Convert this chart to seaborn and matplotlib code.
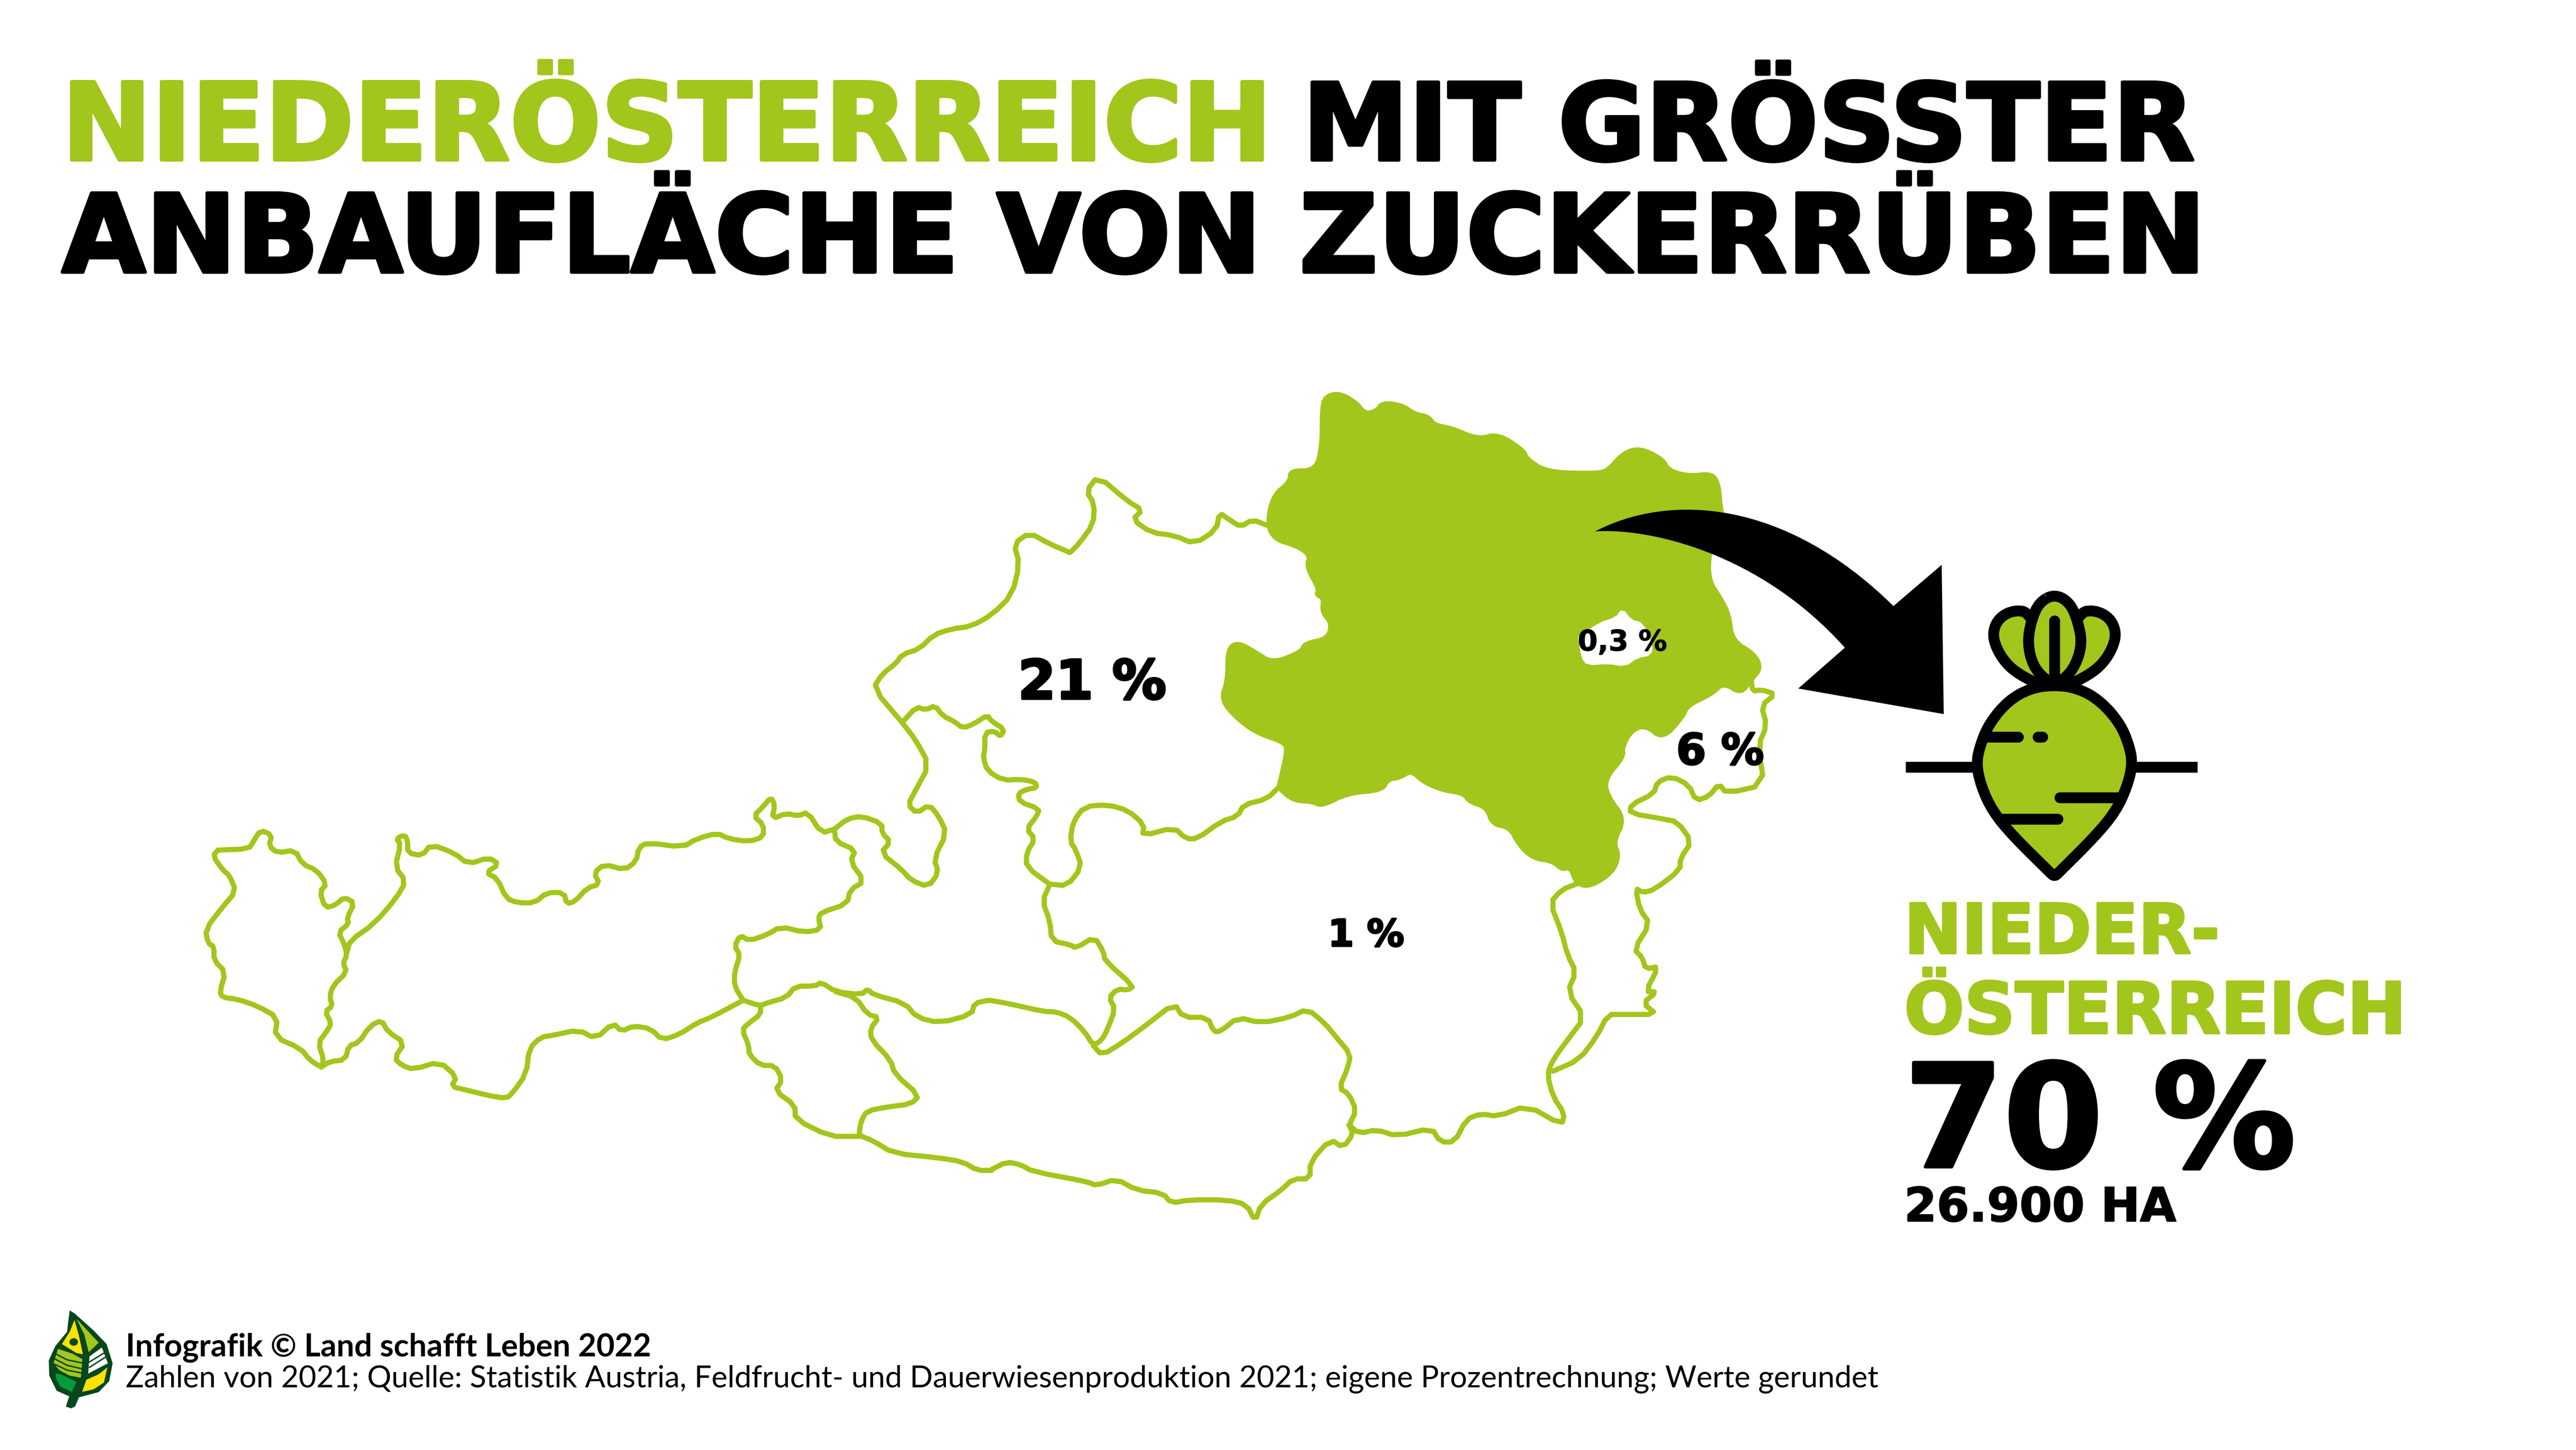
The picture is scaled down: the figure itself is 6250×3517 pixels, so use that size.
"""
plot.py
Zuckerrueben-Infografik: Anbauflaeche nach Bundesland (Land schafft Leben 2022)
Output: out.png (6250x3517)
"""

import numpy as np
import matplotlib
matplotlib.use("Agg")
import matplotlib.pyplot as plt
import matplotlib.patheffects as pe
from matplotlib.path import Path
from matplotlib.patches import PathPatch, Polygon, Ellipse
import seaborn as sns

GREEN = "#a2c61b"
BLACK = "#000000"
LEAF_DARK = "#07471c"
LEAF_YELLOW = "#ffe100"
LEAF_MID = "#009e3a"

# ─── Text / values ───────────────────────────────────────────────────────────

TITLE_GREEN = "NIEDERÖSTERREICH"
TITLE_REST = "MIT GRÖSSTER"
TITLE_LINE2 = "ANBAUFLÄCHE VON ZUCKERRÜBEN"
SHARE_LABELS = ["21 %", "1 %", "6 %", "0,3 %"]
MAIN_REGION = ["NIEDER-", "ÖSTERREICH"]
MAIN_SHARE = "70 %"
MAIN_AREA = "26.900 HA"
FOOT_BOLD = "Infografik © Land schafft Leben 2022"
FOOT_TEXT = ("Zahlen von 2021; Quelle: Statistik Austria, Feldfrucht- und "
             "Dauerwiesenproduktion 2021; eigene Prozentrechnung; Werte gerundet")

# ─── Map outlines (west part and east part, in map units) ────────────────────

vorarlberg = [(92,845),(145,843),(153,830),(165,810),(185,818),(180,838),(195,850),(225,845),(238,870),(262,880),(280,905),(268,918),(277,947),(295,942),(310,928),(328,938),(315,965),(318,975),(300,990),(310,1010),(315,1030),(308,1045),(315,1060),(290,1085),(285,1105),(290,1120),(277,1130),(288,1150),(280,1165),(265,1185),(275,1215),(270,1228),(250,1215),(235,1195),(190,1175),(195,1140),(160,1120),(125,1108),(100,1105),(95,1095),(105,1060),(85,1040),(85,1015),(75,1010),(70,985),(100,945),(123,918),(112,890),(100,880),(83,855),(92,845)]

tirol_north = [(315,1025),(320,1005),(362,975),(400,930),(417,900),(398,875),(408,835),(400,825),(415,818),(420,830),(420,850),(445,855),(460,835),(500,850),(525,870),(560,858),(578,870),(555,885),(575,895),(590,930),(610,938),(640,938),(660,920),(690,920),(695,940),(710,935),(730,912),(752,905),(742,885),(760,870),(795,880),(815,865),(820,840),(835,832),(895,840),(920,825),(955,815),(975,825),(1010,830),(1035,822),(1035,800),(1018,785),(1035,768),(1048,752),(1055,765),(1050,790),(1075,780),(1095,785),(1112,778),(1135,815),(1158,808)]

tirol_east = [(1158,808),(1160,830),(1195,845),(1185,865),(1210,900),(1185,915),(1180,940),(1135,955),(1130,965),(1135,985),(1105,990),(1065,980),(1040,995),(1010,1005),(995,995),(985,1015),(995,1030),(985,1060),(985,1085),(1000,1110)]

tirol_south = [(1000,1110),(945,1140),(920,1150),(890,1170),(860,1180),(840,1160),(810,1155),(790,1165),(775,1150),(745,1178),(715,1162),(670,1172),(650,1175),(630,1195),(625,1240),(600,1275),(590,1283),(560,1278),(520,1268),(495,1262),(505,1245),(475,1218),(430,1232),(410,1225),(397,1212),(415,1185),(385,1165),(375,1145),(355,1155),(335,1185),(318,1190),(312,1215),(285,1218),(270,1228)]

salzburg_north = [(1158,808),(1180,790),(1205,785),(1240,798),(1240,815),(1255,830),(1238,850),(1275,880),(1290,898),(1320,910),(1338,885),(1330,860),(1352,815),(1338,785),(1322,765),(1300,780),(1285,765),(1298,740),(1322,695),(1298,650),(1275,620)]

salzburg_ooe = [(1275,620),(1300,592),(1315,598),(1332,590),(1345,608),(1365,618),(1380,630),(1400,622),(1422,607),(1430,618),(1452,632),(1445,645),(1435,635),(1418,638),(1418,670),(1415,680),(1422,705),(1450,722),(1480,720),(1505,725),(1508,735),(1490,738),(1476,745),(1478,760),(1512,772),(1508,785),(1490,808),(1505,825),(1490,850),(1490,875),(1530,905)]

salzburg_south = [(1425,1110),(1400,1115),(1395,1135),(1340,1150),(1300,1140),(1280,1115),(1225,1100),(1215,1090),(1205,1100),(1160,1095),(1135,1078),(1125,1085),(1090,1085),(1075,1105),(1040,1115),(1030,1120),(1000,1110)]

osttirol = [(1030,1120),(1030,1135),(1010,1150),(998,1162),(1010,1190),(1010,1205),(1030,1225),(1055,1225),(1068,1250),(1055,1270),(1090,1295),(1090,1320),(1150,1350),(1190,1350),(1205,1350),(1200,1345),(1205,1320),(1215,1305),(1250,1298),(1290,1293),(1305,1278),(1262,1240),(1255,1215),(1222,1180),(1220,1160),(1235,1140),(1215,1135),(1195,1105),(1160,1095)]

kaernten_west = [(1205,1350),(1225,1358),(1260,1380),(1340,1388),(1380,1395),(1405,1410),(1430,1410)]

ooe_west = [(1275,620),(1225,560),(1240,535),(1265,515),(1275,500),(1305,490),(1330,465),(1360,455),(1395,450),(1430,430),(1465,395),(1478,340),(1468,305),(1495,285),(1530,305),(1565,320)]

ooe_north = [(140,320),(155,305),(180,270),(182,235),(168,212),(188,185),(240,230),(265,245),(248,262),(280,285),(320,290),(355,305),(393,280),(398,250),(415,262),(435,275),(455,262),(480,272)]

salzburg_steiermark = [(105,905),(92,935),(105,970),(108,1005),(140,1012),(150,1018),(182,998),(198,1025),(200,1040),(250,1085),(240,1092),(222,1090),(207,1105),(218,1125),(205,1160),(195,1180),(180,1190),(165,1165),(140,1140),(115,1130),(95,1130),(30,1115),(0,1110)]

steiermark_north = [(105,905),(135,908),(160,875),(150,845),(140,830),(145,795),(165,768),(205,765),(240,775),(268,800),(265,820),(320,805),(340,825),(360,825),(400,795),(430,785),(440,765),(480,755),(500,735)]

kaernten = [(5,1408),(30,1395),(55,1400),(75,1412),(170,1430),(185,1437),(220,1425),(255,1445),(300,1450),(315,1468),(345,1462),(410,1462),(445,1470),(460,1500),(470,1470),(505,1445),(525,1425),(555,1425),(555,1395),(590,1355),(612,1370),(630,1345),(622,1330),(635,1305),(622,1275),(605,1265),(620,1230),(625,1205),(600,1175),(580,1150),(550,1125),(520,1140),(470,1150),(430,1140),(400,1165),(388,1165),(378,1140),(335,1140),(320,1115),(270,1155),(230,1185),(195,1207),(180,1190)]

steiermark_east = [(1015,905),(990,915),(970,938),(990,990),(1000,1030),(1015,1060),(1000,1095),(1030,1140),(1000,1180),(975,1215),(965,1240),(975,1280),(995,1310),(990,1330),(930,1295),(880,1315),(850,1310),(825,1320),(805,1360),(780,1360),(765,1335),(705,1350),(670,1338),(640,1345),(622,1330)]

burgenland = [(1318,545),(1320,565),(1335,562),(1360,570),(1335,590),(1345,625),(1330,660),(1340,730),(1275,745),(1262,728),(1245,750),(1222,758),(1210,730),(1180,715),(1155,725),(1150,745),(1110,765),(1108,780),(1165,790),(1190,795),(1215,830),(1195,860),(1195,880),(1150,915),(1130,920),(1118,912),(1125,950),(1143,975),(1115,1020),(1130,1035),(1135,1055),(1158,1050),(1135,1095),(1155,1095),(1130,1115),(1155,1135),(1095,1135),(1070,1135),(1050,1175),(1020,1215),(975,1235)]

noe_border = [(500,735),(515,670),(510,655),(465,640),(430,615),(400,580),(412,545),(412,490),(430,478),(460,495),(490,515),(540,495),(545,480),(585,472),(592,445),(575,425),(578,400),(565,395),(570,385),(548,345),(555,325),(530,308),(495,298),(480,272),(490,220),(520,195),(520,175),(565,175),(575,130),(575,70),(580,45),(605,38),(635,55),(650,75),(670,70),(680,55),(715,60),(735,75),(760,80),(770,95),(800,100),(845,120),(880,110),(925,140),(930,155),(965,178),(1050,180),(1070,175),(1095,145),(1125,135),(1165,155),(1175,175),(1210,185),(1250,180),(1262,200),(1265,240),(1268,250),(1245,320),(1245,370),(1265,400),(1280,430),(1285,475),(1325,500),(1335,525),(1318,545),(1300,570),(1270,550),(1250,570),(1208,590),(1200,610),(1165,650),(1135,625),(1110,635),(1095,665),(1098,680),(1065,720),(1070,750),(1100,790),(1080,830),(1090,855),(1078,885),(1040,910),(1015,905),(1005,875),(990,880),(975,865),(940,860),(915,835),(900,805),(870,800),(860,770),(830,760),(820,745),(785,740),(750,725),(730,705),(710,718),(690,720),(680,740),(620,745),(575,768),(560,760),(525,758),(500,735)]

wien = [(1020,470),(1055,445),(1085,435),(1095,420),(1110,440),(1130,445),(1145,480),(1145,500),(1120,505),(1100,520),(1070,515),(1035,518),(1025,505)]

BORDERS_WEST = [vorarlberg, tirol_north, tirol_east, tirol_south, salzburg_north,
                salzburg_ooe, salzburg_south, osttirol, kaernten_west, ooe_west]
BORDERS_EAST = [ooe_north, salzburg_steiermark, steiermark_north, kaernten,
                steiermark_east, burgenland]


def west(pts):
    a = np.asarray(pts, dtype=float)
    return np.column_stack([400 + a[:, 0] * 1.403, 900 + a[:, 1] * 1.375])


def east(pts):
    a = np.asarray(pts, dtype=float)
    return np.column_stack([2400 + a[:, 0] * 1.403, 900 + a[:, 1] * 1.375])


def icon(pts):
    a = np.asarray(pts, dtype=float)
    return np.column_stack([4300 + a[:, 0] * 1.09, 1300 + a[:, 1] * 1.085])


def logo(pts):
    a = np.asarray(pts, dtype=float)
    return np.column_stack([80 + a[:, 0] / 1.568, 3150 + a[:, 1] / 3])


def round_corners(xy, passes=1):
    """Cut the corners of a traced outline so it stops looking polygonal."""
    for _ in range(passes):
        q = 0.75 * xy[:-1] + 0.25 * xy[1:]
        r = 0.25 * xy[:-1] + 0.75 * xy[1:]
        mid = np.empty((len(q) * 2, 2))
        mid[0::2], mid[1::2] = q, r
        xy = np.vstack([xy[0], mid, xy[-1]])
    return xy


def smooth_patch(pts, **kw):
    """Closed smooth shape: quadratic curves through the edge midpoints."""
    p = np.asarray(pts, dtype=float)
    mids = (p + np.roll(p, -1, axis=0)) / 2
    verts, codes = [mids[-1]], [Path.MOVETO]
    for ctrl, mid in zip(p, mids):
        verts += [ctrl, mid]
        codes += [Path.CURVE3, Path.CURVE3]
    return PathPatch(Path(verts, codes), **kw)


def fit_text(ax, s, x0, x1, base, color=BLACK, weight="bold", family="DejaVu Sans", stroke=0):
    """Put text on a baseline and scale the font so it spans x0..x1."""
    t = ax.text(x0, base, s, ha="left", va="baseline", color=color,
                fontsize=100, fontweight=weight, family=family)
    rend = ax.figure.canvas.get_renderer()
    for _ in range(2):
        t.set_fontsize(t.get_fontsize() * (x1 - x0) / t.get_window_extent(rend).width)
    if stroke:
        t.set_path_effects([pe.withStroke(linewidth=stroke, foreground=color)])
    return t


# ─── Figure ──────────────────────────────────────────────────────────────────

sns.set_theme(style="white")
fig = plt.figure(figsize=(62.5, 35.17), dpi=100, facecolor="white")
ax = fig.add_axes([0, 0, 1, 1])

# Map
ax.add_patch(Polygon(round_corners(east(noe_border), passes=2), closed=True, facecolor=GREEN,
                     edgecolor=GREEN, linewidth=7, joinstyle="round", zorder=2))
wien_xy = east(wien + wien[:1])
ax.add_patch(Polygon(round_corners(wien_xy), closed=True, facecolor="white",
                     edgecolor="white", linewidth=3, joinstyle="round", zorder=3))

for seg, conv in [(s, west) for s in BORDERS_WEST] + [(s, east) for s in BORDERS_EAST]:
    xy = round_corners(conv(seg))
    sns.lineplot(x=xy[:, 0], y=xy[:, 1], sort=False, estimator=None, color=GREEN,
                 linewidth=9, solid_joinstyle="round", solid_capstyle="round",
                 legend=False, ax=ax, zorder=2)
ax.set_xlim(0, 6250)
ax.set_ylim(3517, 0)
ax.axis("off")

# Arrow
arrow_verts = [(3870,1289), (4050,1195), (4330,1210), (4594,1470),
               (4711,1370), (4716,1732), (4363,1670), (4476,1571),
               (4270,1340), (4000,1280), (3870,1289)]
arrow_codes = [Path.MOVETO, Path.CURVE4, Path.CURVE4, Path.CURVE4,
               Path.LINETO, Path.LINETO, Path.LINETO, Path.LINETO,
               Path.CURVE4, Path.CURVE4, Path.CURVE4]
ax.add_patch(PathPatch(Path(arrow_verts, arrow_codes), facecolor=BLACK,
                       edgecolor="none", zorder=4))

# Title
fit_text(ax, TITLE_GREEN, 150, 3085, 388, color=GREEN, stroke=6)
fit_text(ax, TITLE_REST, 3160, 5325, 388, stroke=6)
fit_text(ax, TITLE_LINE2, 150, 5352, 660, stroke=6)

# Share labels on the map
fit_text(ax, SHARE_LABELS[0], 2470, 2830, 1695, stroke=4).set_zorder(5)
fit_text(ax, SHARE_LABELS[1], 3222, 3407, 2295, stroke=3).set_zorder(5)
fit_text(ax, SHARE_LABELS[2], 4067, 4280, 1854, stroke=3).set_zorder(5)
fit_text(ax, SHARE_LABELS[3], 3828, 4045, 1578, stroke=1).set_zorder(5)

# Beet icon
beet_lw = 19
for x0, x1 in [(297, 457), (800, 947)]:
    ax.plot(*icon([(x0, 517), (x1, 517)]).T, color=BLACK, lw=beet_lw, solid_capstyle="butt", zorder=5)

leaf_left = [(575,172),(540,165),(505,182),(490,215),(498,250),(520,285),(550,310),(600,335),(628,300)]
leaf_right = [(2 * 628 - x, y) for x, y in leaf_left]
leaf_mid = [(628,130),(662,148),(680,190),(690,240),(675,290),(650,320),(628,330),(606,320),(580,290),(568,240),(576,190),(594,148)]
beet_body = [(628,333),(680,340),(730,368),(775,420),(795,470),(802,510),(790,560),(765,615),(720,670),(640,750),(628,762),(616,750),(535,670),(490,615),(465,560),(454,510),(462,470),(482,420),(525,368),(575,340)]
for shape in [leaf_left, leaf_right, leaf_mid, beet_body]:
    ax.add_patch(smooth_patch(icon(shape), facecolor=GREEN, edgecolor=BLACK,
                              linewidth=beet_lw, joinstyle="round", zorder=5))
for seg in [[(628,190),(628,325)], [(480,450),(548,450)], [(592,450),(602,450)],
            [(640,585),(775,585)], [(515,633),(636,633)]]:
    ax.plot(*icon(seg).T, color=BLACK, lw=beet_lw, solid_capstyle="round", zorder=6)

# Right block
fit_text(ax, MAIN_REGION[0], 4620, 5385, 2312, color=GREEN, stroke=4)
fit_text(ax, MAIN_REGION[1], 4620, 5838, 2506, color=GREEN, stroke=4)
fit_text(ax, MAIN_SHARE, 4620, 5570, 2830, stroke=6)
fit_text(ax, MAIN_AREA, 4620, 5280, 2962, stroke=2)

# Footer
fit_text(ax, FOOT_BOLD, 305, 1578, 3290, family="Lato")
fit_text(ax, FOOT_TEXT, 305, 4562, 3365, weight="normal", family="Lato")

# Logo
logo_shapes = [
    ([(140,85),(160,110),(230,230),(280,330),(303,470),(290,600),(250,680),(175,718),(160,785),(145,798),(125,785),(138,710),(90,670),(62,560),(60,450),(85,345),(130,240),(135,150)], LEAF_DARK),
    ([(158,155),(175,270),(190,405),(165,395),(110,330),(140,240)], LEAF_YELLOW),
    ([(165,145),(250,320),(212,390),(195,260)], GREEN),
    ([(95,365),(150,400),(188,440),(182,575),(140,560),(100,520),(78,470)], GREEN),
    ([(262,355),(285,470),(210,545),(215,420)], "white"),
    ([(85,545),(105,550),(165,605),(148,678),(105,640),(90,590)], LEAF_MID),
    ([(283,500),(270,610),(230,660),(187,678),(203,590),(250,550)], LEAF_YELLOW),
]
for shape, col in logo_shapes:
    ax.add_patch(Polygon(logo(shape), closed=True, facecolor=col, edgecolor="none", zorder=5))
eye = logo([(155, 315)])[0]
ax.add_patch(Ellipse(eye, 32 / 1.568, 55 / 3, facecolor=LEAF_DARK, edgecolor="none", zorder=6))
for seg in [[(85,400),(130,445),(188,468)], [(80,435),(130,485),(186,510)],
            [(80,475),(130,520),(183,540)], [(215,460),(275,390)], [(215,500),(280,420)]]:
    ax.plot(*logo(seg).T, color=LEAF_DARK, lw=2.5, zorder=6)

plt.savefig("out.png", dpi=100, facecolor="white")
plt.close()
